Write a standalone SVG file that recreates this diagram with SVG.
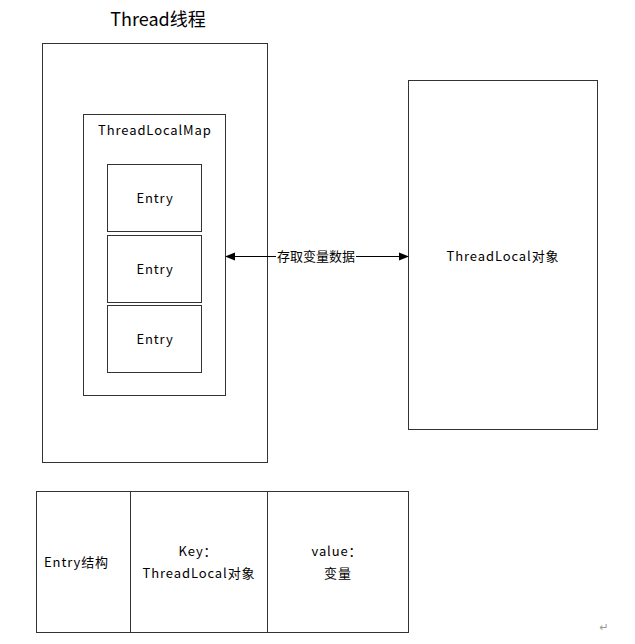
<svg xmlns="http://www.w3.org/2000/svg" width="635" height="644" viewBox="0 0 635 644">
<style>
.box{fill:#fff;stroke:#333;stroke-width:1}
.t{font-family:"Noto Sans CJK SC","Noto Sans",sans-serif;font-size:13px;fill:#000;dominant-baseline:central;letter-spacing:0.9px}
.c{text-anchor:middle}
</style>
<defs>
<marker id="ah" markerWidth="10" markerHeight="10" refX="9" refY="5" orient="auto-start-reverse" markerUnits="userSpaceOnUse">
<path d="M0,1 L10,5 L0,9 Z" fill="#000"/>
</marker>
</defs>
<rect width="635" height="644" fill="#fff"/>
<text class="t c" x="158" y="18" style="font-size:18px;letter-spacing:0">Thread线程</text>
<g id="thread"><rect class="box" x="42.5" y="43.5" width="225" height="419"/></g>
<g id="map"><rect class="box" x="83.5" y="114.5" width="142" height="281"/>
<text class="t" x="98" y="129">ThreadLocalMap</text></g>
<g id="entry1"><rect class="box" x="107.5" y="164.5" width="94" height="67"/><text class="t c" x="155" y="197">Entry</text></g>
<g id="entry2"><rect class="box" x="107.5" y="235.5" width="94" height="67"/><text class="t c" x="155" y="268">Entry</text></g>
<g id="entry3"><rect class="box" x="107.5" y="305.5" width="94" height="67"/><text class="t c" x="155" y="338">Entry</text></g>
<g id="threadlocal"><rect class="box" x="408.5" y="80.5" width="189" height="349"/><text class="t c" x="503" y="255">ThreadLocal对象</text></g>
<g id="connectors">
<line x1="226" y1="256.5" x2="408" y2="256.5" stroke="#000" stroke-width="1" marker-start="url(#ah)" marker-end="url(#ah)"/>
<rect x="276" y="248" width="80" height="17" fill="#fff"/>
<text class="t c" x="316" y="255" style="letter-spacing:0">存取变量数据</text>
</g>
<g id="table">
<rect class="box" x="36.5" y="491.5" width="372" height="141"/>
<line x1="130.5" y1="491.5" x2="130.5" y2="632.5" stroke="#333"/>
<line x1="267.5" y1="491.5" x2="267.5" y2="632.5" stroke="#333"/>
<text class="t" x="44" y="561">Entry结构</text>
<text class="t c" x="198" y="550">Key：</text>
<text class="t c" x="199" y="572">ThreadLocal对象</text>
<text class="t c" x="337" y="550">value：</text>
<text class="t c" x="338" y="572">变量</text>
</g>
<text x="604" y="627" style="font-family:'DejaVu Sans',sans-serif;font-size:11px;fill:#999" text-anchor="middle" dominant-baseline="central">↵</text>
</svg>
